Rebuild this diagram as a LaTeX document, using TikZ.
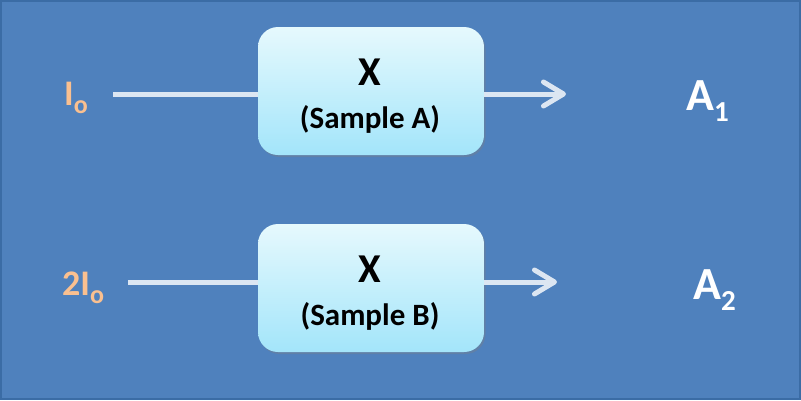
\documentclass[tikz,border=0pt]{standalone}
\usepackage{fontspec}
\setmainfont{Carlito}
\usetikzlibrary{arrows.meta,shadows}
\definecolor{bg}{HTML}{4F81BD}
\definecolor{bgedge}{HTML}{3B6CA5}
\definecolor{boxtop}{HTML}{E6F9FD}
\definecolor{boxbot}{HTML}{A3E5FA}
\definecolor{arrowc}{HTML}{DCE6F2}
\definecolor{peach}{HTML}{FAC090}
\tikzset{
  samplebox/.style={rectangle, rounded corners=20pt, minimum width=226pt, minimum height=128pt,
    inner sep=0pt, top color=boxtop, bottom color=boxbot, draw=none,
    drop shadow={shadow xshift=1.5pt, shadow yshift=-2pt, opacity=0.35}},
  flow/.style={draw=arrowc, line width=5pt},
  flowarrow/.style={flow, -{Straight Barb[length=20pt, width=24pt, round]}},
  bigx/.style={inner sep=0pt, anchor=base, font=\bfseries\fontsize{41}{41}\selectfont},
  samptxt/.style={inner sep=0pt, anchor=base, font=\bfseries\fontsize{31}{31}\selectfont},
  inlbl/.style={inner sep=0pt, anchor=base west, text=peach, font=\bfseries\fontsize{36}{36}\selectfont},
  outlbl/.style={inner sep=0pt, anchor=base west, text=white, font=\bfseries\fontsize{46}{46}\selectfont}
}
\newcommand{\subo}{\raisebox{-8pt}{\fontsize{26}{26}\selectfont o}}
\newcommand{\subn}[1]{\raisebox{-11pt}{\fontsize{29}{29}\selectfont #1}}
\begin{document}
\begin{tikzpicture}[x=1pt, y=-1pt]
  \useasboundingbox (0,0) rectangle (801,400);
  \fill[bg] (0,0) rectangle (801,400);
  \draw[bgedge, line width=2pt] (1,1) rectangle (800,399);

  % boxes
  \node[samplebox] (boxA) at (371,91) {};
  \node[samplebox] (boxB) at (371,288) {};
  \node[bigx] (xA) at (370,85) {X};
  \node[samptxt] (sA) at (370,128) {(Sample A)};
  \node[bigx] (xB) at (370,282) {X};
  \node[samptxt] (sB) at (370,325) {(Sample B)};

  % labels
  \node[inlbl] (inA) at (64,105) {I\subo};
  \node[inlbl] (inB) at (62,295) {2I\subo};
  \node[outlbl] (outA) at (686,110) {A\subn{1}};
  \node[outlbl] (outB) at (693,299) {A\subn{2}};

  % connectors
  \coordinate (startA) at (113,94);
  \coordinate (startB) at (128,282);
  \coordinate (endA) at (566,94);
  \coordinate (endB) at (557,282);
  \draw[flow] (startA) -- (boxA.west |- startA);
  \draw[flowarrow] (boxA.east |- endA) -- (endA);
  \draw[flow] (startB) -- (boxB.west |- startB);
  \draw[flowarrow] (boxB.east |- endB) -- (endB);
\end{tikzpicture}
\end{document}
